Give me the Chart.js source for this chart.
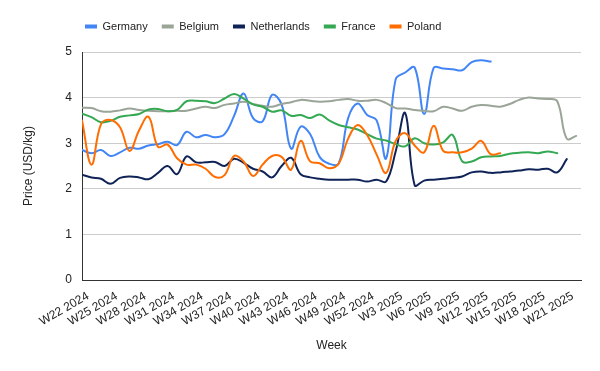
<!DOCTYPE html>
<html><head><meta charset="utf-8">
<script src="https://cdn.jsdelivr.net/npm/chart.js@4.4.1/dist/chart.umd.min.js"></script>
<style>html,body{margin:0;padding:0;background:#fff}canvas{display:block}</style>
</head><body>
<canvas id="c" width="600" height="371"></canvas>
<script>
const weeks = ['W22 2024','W23 2024','W24 2024','W25 2024','W26 2024','W27 2024','W28 2024','W29 2024','W30 2024','W31 2024','W32 2024','W33 2024','W34 2024','W35 2024','W36 2024','W37 2024','W38 2024','W39 2024','W40 2024','W41 2024','W42 2024','W43 2024','W44 2024','W45 2024','W46 2024','W47 2024','W48 2024','W49 2024','W50 2024','W51 2024','W52 2024','W1 2025','W2 2025','W3 2025','W4 2025','W5 2025','W6 2025','W7 2025','W8 2025','W9 2025','W10 2025','W11 2025','W12 2025','W13 2025','W14 2025','W15 2025','W16 2025','W17 2025','W18 2025','W19 2025','W20 2025','W21 2025','W22 2025'];
const tickWeeks = ['W22 2024','W25 2024','W28 2024','W31 2024','W34 2024','W37 2024','W40 2024','W43 2024','W46 2024','W49 2024','W52 2024','W3 2025','W6 2025','W9 2025','W12 2025','W15 2025','W18 2025','W21 2025'];
const yTicks = [0,1,2,3,4,5];

const germany = [2.85,2.78,2.85,2.72,2.80,2.90,2.88,2.95,2.98,3.03,2.96,3.25,3.13,3.18,3.13,3.20,3.60,4.09,3.55,3.48,4.06,3.85,2.88,3.36,3.20,2.70,2.55,2.55,3.55,3.87,3.62,3.50,2.67,4.40,4.55,4.66,3.64,4.65,4.64,4.62,4.60,4.78,4.82,4.79];
const belgium = [3.78,3.77,3.70,3.69,3.72,3.76,3.73,3.71,3.70,3.70,3.71,3.71,3.76,3.80,3.77,3.84,3.87,3.91,3.86,3.82,3.80,3.86,3.90,3.95,3.93,3.91,3.92,3.95,3.97,3.93,3.93,3.95,3.88,3.77,3.76,3.73,3.71,3.70,3.80,3.76,3.71,3.80,3.84,3.82,3.80,3.86,3.95,4.00,3.98,3.97,3.92,3.10,3.16];
const netherlands = [2.31,2.25,2.22,2.11,2.24,2.27,2.25,2.21,2.35,2.50,2.32,2.71,2.58,2.58,2.59,2.50,2.66,2.57,2.44,2.38,2.25,2.50,2.68,2.32,2.25,2.22,2.20,2.20,2.20,2.20,2.16,2.20,2.16,2.82,3.66,2.08,2.18,2.20,2.22,2.24,2.27,2.36,2.38,2.35,2.36,2.38,2.40,2.43,2.42,2.44,2.36,2.65];
const france = [3.65,3.57,3.46,3.49,3.58,3.61,3.64,3.74,3.75,3.70,3.73,3.92,3.93,3.92,3.88,3.98,4.08,3.98,3.85,3.80,3.69,3.72,3.60,3.62,3.55,3.63,3.50,3.40,3.35,3.30,3.20,3.10,3.06,2.98,2.93,3.11,3.00,2.97,3.02,3.18,2.60,2.60,2.69,2.71,2.72,2.77,2.79,2.80,2.78,2.82,2.78];
const poland = [3.50,2.53,3.42,3.51,3.35,2.83,3.28,3.58,2.92,2.97,2.67,2.53,2.53,2.44,2.26,2.30,2.72,2.60,2.28,2.53,2.72,2.70,2.42,3.05,2.60,2.56,2.45,2.55,3.10,3.40,3.18,2.75,2.35,3.05,3.22,2.95,2.80,3.38,2.83,2.80,2.80,2.88,3.05,2.76,2.78];

const seriesNames = ['Germany','Belgium','Netherlands','France','Poland'];
const seriesValues = [germany, belgium, netherlands, france, poland];
const seriesColors = ['#4285f4','#9aa598','#0f2357','#34a853','#ff6d01'];

const FONT = "'Liberation Sans', Arial, sans-serif";
const LEGEND_START_X = 85;

const legendTweak = {
  id: 'legendTweak',
  afterInit(chart) {
    const lg = chart.legend;
    const f = lg.fit;
    lg.fit = function () { f.call(this); this.height = 45; };
  },
  afterLayout(chart) {
    const lg = chart.legend;
    const pad = lg.options.labels.padding;
    lg.right = 2 * LEGEND_START_X - lg.left - pad + lg.lineWidths[0];
  }
};

new Chart(document.getElementById('c'), {
  type: 'line',
  data: {
    datasets: seriesNames.map((name, k) => ({
      label: name,
      data: seriesValues[k].map((v, i) => ({ x: i, y: v })),
      borderColor: seriesColors[k],
      backgroundColor: seriesColors[k],
      borderWidth: 2,
      pointRadius: 0,
      tension: 0.4,
      borderCapStyle: 'round',
      borderJoinStyle: 'round',
      fill: false,
      order: seriesNames.length - k
    }))
  },
  options: {
    responsive: false,
    animation: false,
    devicePixelRatio: 1,
    layout: { padding: { top: 7, right: 19, bottom: 0, left: 0 } },
    plugins: {
      tooltip: { enabled: false },
      legend: {
        position: 'top',
        labels: {
          boxWidth: 12, boxHeight: 4, padding: 14, color: '#222',
          font: { family: FONT, size: 11 },
          sort: (a, b) => a.datasetIndex - b.datasetIndex,
          generateLabels(chart) {
            const items = Chart.defaults.plugins.legend.labels.generateLabels(chart);
            items.forEach(it => { it.lineWidth = 0; it.fillStyle = it.strokeStyle; });
            return items;
          }
        }
      }
    },
    scales: {
      x: {
        type: 'linear', min: 0, max: 52.5,
        afterBuildTicks(s) { s.ticks = tickWeeks.map(w => ({ value: weeks.indexOf(w) })); },
        afterFit(s) { s.height = 91; },
        ticks: {
          autoSkip: false, minRotation: 30, maxRotation: 30, padding: 1, labelOffset: 6,
          color: '#222', font: { family: FONT, size: 12 },
          callback: v => weeks[v]
        },
        grid: { display: false },
        border: { display: true, color: '#333', width: 1 },
        title: { display: true, text: 'Week', color: '#222', font: { family: FONT, size: 12 }, padding: { top: 0, bottom: 18 } }
      },
      y: {
        min: 0, max: 5,
        afterBuildTicks(s) { s.ticks = yTicks.map(v => ({ value: v })); },
        afterFit(s) { s.width = 82; },
        ticks: { padding: 10, color: '#222', font: { family: FONT, size: 12 } },
        grid: { color: '#cccccc', drawTicks: false },
        border: { display: true, color: '#333', width: 1 },
        title: { display: true, text: 'Price (USD/kg)', color: '#222', font: { family: FONT, size: 12 }, padding: { top: 21, bottom: 0 } }
      }
    }
  },
  plugins: [legendTweak]
});
</script>
</body></html>
